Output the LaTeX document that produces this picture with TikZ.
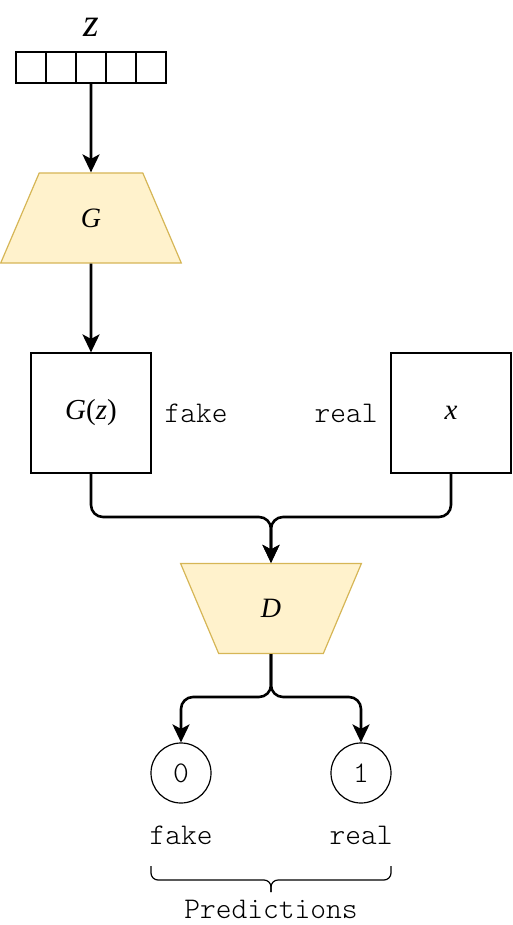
\documentclass[tikz,border=0pt]{standalone}
\usepackage{fontspec}
\setmainfont{Liberation Serif}
\setmonofont{Latin Modern Mono Light}
\usetikzlibrary{shapes.geometric,arrows.meta}
\definecolor{trfill}{HTML}{FFF2CC}
\definecolor{trdraw}{HTML}{D6B656}
\begin{document}
\begin{tikzpicture}[x=1pt,y=-1pt,
  cell/.style={draw,line width=1.2pt,minimum width=30pt,minimum height=31pt,inner sep=0pt,outer sep=0pt},
  trap/.style={trapezium,draw=trdraw,fill=trfill,line width=1.2pt,trapezium stretches=true,
     minimum width=181pt,minimum height=90pt,trapezium angle=68.2,inner sep=0pt,
     font=\fontsize{28}{32}\selectfont\itshape},
  sqbox/.style={draw,line width=1.2pt,minimum width=120pt,minimum height=120pt,inner sep=0pt,
     font=\fontsize{29}{32}\selectfont},
  circ/.style={circle,draw,line width=1.2pt,minimum size=60pt,inner sep=0pt,
     font=\fontsize{30}{32}\selectfont\ttfamily},
  mono/.style={font=\fontsize{30}{32}\selectfont\ttfamily,inner sep=0pt},
  arr/.style={line width=2.6pt,-{Stealth[length=18pt,width=17pt,inset=4.5pt]}},
  conn/.style={arr,rounded corners=12pt},
  brace/.style={line width=1.2pt,rounded corners=7pt}]
\useasboundingbox (0,0) rectangle (513,925);
% input vector z
\node[font=\fontsize{40}{42}\selectfont\itshape] (zlab) at (91,27) {z};
\node[cell] (c1) at (31,67.5) {};
\node[cell] (c2) at (61,67.5) {};
\node[cell] (c3) at (91,67.5) {};
\node[cell] (c4) at (121,67.5) {};
\node[cell] (c5) at (151,67.5) {};
% generator
\node[trap] (G) at (91,218) {G};
% boxes
\node[sqbox] (Gz) at (91,413) {\textit{G}(\textit{z})};
\node[sqbox] (X) at (451,413) {\textit{x}};
\node[mono] (fake1) at (196,413) {fake};
\node[mono] (real1) at (346,413) {real};
% discriminator
\node[trap,shape border rotate=180] (D) at (271,608.5) {D};
% outputs
\node[circ] (p0) at (181,773) {0};
\node[circ] (p1) at (361,773) {1};
\node[mono] (fake2) at (181,835) {fake};
\node[mono] (real2) at (361,835) {real};
\node[mono,anchor=base] (pred) at (271,918) {Predictions};
% junctions
\coordinate (j1) at (271,517);
\coordinate (j2) at (271,697);
\coordinate (bl) at (151,866);
\coordinate (br) at (391,866);
\coordinate (bm) at (271,880);
\coordinate (bt) at (271,892);
% connectors
\draw[arr] (c3.south) -- (G.north);
\draw[arr] (G.south) -- (Gz.north);
\draw[conn] (Gz.south) |- (j1) -- (D.north);
\draw[conn] (X.south) |- (j1) -- (D.north);
\draw[conn] (D.south) -- (j2) -| (p0.north);
\draw[conn] (D.south) -- (j2) -| (p1.north);
% brace
\draw[brace] (bl) |- (bm) -- (bt);
\draw[brace] (br) |- (bm) -- (bt);
\end{tikzpicture}
\end{document}
